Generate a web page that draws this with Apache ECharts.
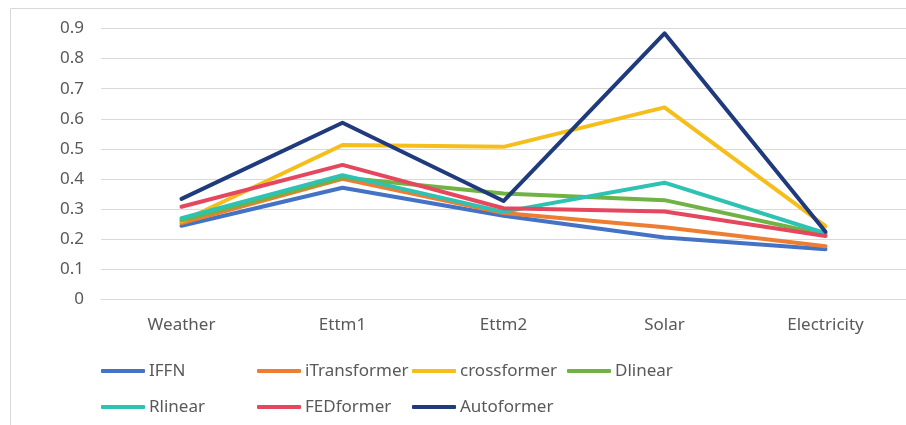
<!DOCTYPE html>
<html>
<head>
<meta charset="utf-8">
<script src="https://cdn.jsdelivr.net/npm/echarts@6/dist/echarts.min.js"></script>
<style>
html,body{margin:0;padding:0;background:#fff;}
#chart{width:906px;height:425px;}
</style>
</head>
<body>
<div id="chart"></div>
<script>
const categories = ['Weather', 'Ettm1', 'Ettm2', 'Solar', 'Electricity'];
const yTicks = [0, 0.1, 0.2, 0.3, 0.4, 0.5, 0.6, 0.7, 0.8, 0.9];
const seriesNames = ['IFFN', 'iTransformer', 'crossformer', 'Dlinear', 'Rlinear', 'FEDformer', 'Autoformer'];
const IFFN = [0.245, 0.371, 0.278, 0.206, 0.167];
const iTransformer = [0.254, 0.401, 0.287, 0.240, 0.177];
const crossformer = [0.259, 0.513, 0.507, 0.638, 0.244];
const Dlinear = [0.263, 0.405, 0.352, 0.330, 0.215];
const Rlinear = [0.270, 0.413, 0.291, 0.388, 0.220];
const FEDformer = [0.308, 0.447, 0.303, 0.292, 0.211];
const Autoformer = [0.334, 0.587, 0.327, 0.884, 0.225];

const seriesValues = [IFFN, iTransformer, crossformer, Dlinear, Rlinear, FEDformer, Autoformer];
const colors = ['#4472C4', '#ED7D31', '#F5BE1A', '#70B244', '#2EC2B2', '#E5475E', '#1F3A7D'];
const legendPos = [[101, 361], [257, 361], [412, 361], [567, 361], [101, 397], [257, 397], [412, 397]];

const font = '"Noto Sans", sans-serif';
const chart = echarts.init(document.getElementById('chart'), null, {renderer: 'canvas'});

chart.setOption({
  animation: false,
  backgroundColor: '#ffffff',
  graphic: [{
    type: 'rect',
    shape: {x: 10.5, y: 8.5, width: 920, height: 440},
    style: {fill: 'none', stroke: '#d9d9d9', lineWidth: 1},
    silent: true,
    z: -1
  }],
  grid: {left: 101, top: 28.5, width: 816, height: 271},
  legend: seriesNames.map((n, i) => ({
    data: [n],
    left: legendPos[i][0],
    top: legendPos[i][1],
    padding: 0,
    icon: 'roundRect',
    itemWidth: 44,
    itemHeight: 4,
    textStyle: {color: '#595959', fontSize: 17, fontFamily: font, lineHeight: 20, padding: [0, 0, 0, -1]}
  })),
  xAxis: {
    type: 'category',
    data: categories,
    boundaryGap: true,
    axisLine: {show: true, lineStyle: {color: '#d9d9d9', width: 1}},
    axisTick: {show: false},
    axisLabel: {color: '#595959', fontSize: 17, fontFamily: font, margin: 17}
  },
  yAxis: {
    type: 'value',
    min: yTicks[0],
    max: yTicks[yTicks.length - 1],
    interval: 0.1,
    axisLine: {show: false},
    axisTick: {show: false},
    splitLine: {lineStyle: {color: '#d9d9d9', width: 1}},
    axisLabel: {color: '#595959', fontSize: 17, fontFamily: font, margin: 17,
      formatter: v => String(Math.round(v * 10) / 10)}
  },
  series: seriesNames.map((n, i) => ({
    name: n,
    type: 'line',
    data: seriesValues[i],
    showSymbol: false,
    symbol: 'none',
    smooth: false,
    color: colors[i],
    lineStyle: {color: colors[i], width: 4, join: 'round', cap: 'round'},
    z: 2 + i
  }))
});
</script>
</body>
</html>
